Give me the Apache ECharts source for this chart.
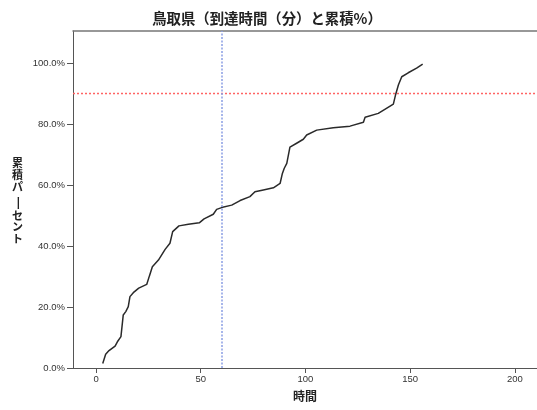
<!DOCTYPE html>
<html>
<head>
<meta charset="utf-8">
<script src="https://cdn.jsdelivr.net/npm/echarts@6/dist/echarts.min.js"></script>
<style>html,body{margin:0;padding:0;background:#fff}#c{width:537px;height:410px}</style>
</head>
<body>
<div id="c"></div>
<script>
const titleText = '鳥取県（到達時間（分）と累積%）';
const xName = '時間';
const yNameParts = ['累\n積\nパ', 'ー', 'セ\nン\nト'];
const xTicks = [0, 50, 100, 150, 200];
const yTicks = [0, 20, 40, 60, 80, 100];
const timeValues = [3.2,4.6,6.2,9.1,10.2,11.9,13.0,14.2,15.4,16.2,17.8,20.4,24.2,25.5,26.9,29.8,33.0,35.3,36.6,39.6,44.1,49.3,51.6,56.0,57.6,60.0,64.8,68.8,73.5,75.9,79.9,84.7,87.9,89.0,89.9,91.1,92.6,95.8,99.0,100.6,105.4,113.3,121.3,127.7,128.5,134.8,142.0,143.1,144.4,146.0,149.1,153.1,156.0];
const cumulativePct = [1.5,4.5,5.7,7.2,8.6,10.3,17.4,18.5,20.1,23.4,24.7,26.2,27.4,30.2,33.2,35.4,38.9,40.9,44.7,46.6,47.1,47.6,48.9,50.4,52.0,52.6,53.4,54.9,56.2,57.8,58.4,59.1,60.5,63.8,65.5,67.1,72.4,73.7,75.0,76.4,78.0,78.8,79.3,80.6,82.2,83.5,86.5,89.7,92.8,95.5,96.8,98.3,99.6];
const refTime = 60;
const refPct = 90;

const xMin = -11, xMax = 210.6, yMin = 0, yMax = 110.5;
const jp = '"Noto Sans CJK JP", sans-serif';
const lat = '"Liberation Sans", Arial, sans-serif';

const chart = echarts.init(document.getElementById('c'), null, {renderer: 'canvas'});
chart.setOption({
  animation: false,
  backgroundColor: '#fff',
  title: {
    text: titleText, left: 262, top: 6, textAlign: 'center',
    textStyle: {fontFamily: jp, fontSize: 14.4, fontWeight: 'bold', color: '#222'}
  },
  grid: {left: 73, top: 31, right: 0, bottom: 42},
  xAxis: [{
    type: 'value', min: xMin, max: xMax, position: 'bottom',
    name: xName, nameLocation: 'middle', nameGap: 22,
    nameTextStyle: {fontFamily: jp, fontSize: 12, fontWeight: 'bold', color: '#222'},
    splitLine: {show: false},
    axisLine: {show: true, onZero: false, lineStyle: {color: '#555', width: 1}},
    axisTick: {show: true, length: 5, customValues: xTicks, lineStyle: {color: '#555'}},
    axisLabel: {customValues: xTicks, margin: 6, fontFamily: lat, fontSize: 9.5, color: '#333'}
  }, {
    type: 'value', min: xMin, max: xMax, position: 'top',
    splitLine: {show: false},
    axisLine: {show: true, onZero: false, lineStyle: {color: '#777', width: 1.5}},
    axisTick: {show: false}, axisLabel: {show: false}
  }],
  yAxis: {
    type: 'value', min: yMin, max: yMax,
    splitLine: {show: false},
    axisLine: {show: true, onZero: false, lineStyle: {color: '#555', width: 1}},
    axisTick: {show: true, length: 6, customValues: yTicks, lineStyle: {color: '#555'}},
    axisLabel: {customValues: yTicks, margin: 8, fontFamily: lat, fontSize: 9.5, color: '#333',
      formatter: v => v.toFixed(1) + '%'}
  },
  graphic: [
    {type: 'text', left: 12, top: 157, style: {text: yNameParts[0], font: 'bold 11px "Noto Sans CJK JP"', fill: '#222', lineHeight: 12}},
    {type: 'text', x: 18, y: 203, rotation: Math.PI / 2, originX: 0, originY: 0,
      style: {text: yNameParts[1], font: '15px "Noto Sans CJK JP"', fill: '#222', align: 'center', verticalAlign: 'middle'}},
    {type: 'text', left: 12, top: 210, style: {text: yNameParts[2], font: 'bold 11px "Noto Sans CJK JP"', fill: '#222', lineHeight: 11.5}}
  ],
  series: [{
    type: 'line',
    data: timeValues.map((t, i) => [t, cumulativePct[i]]),
    showSymbol: false, symbol: 'none',
    lineStyle: {color: '#2a2a2a', width: 1.5},
    z: 3
  }, {
    type: 'line', data: [], silent: true, z: 2,
    markLine: {
      silent: true, symbol: 'none', label: {show: false}, animation: false,
      lineStyle: {color: '#8a9ee4', type: [2, 1.5], width: 1.5, opacity: 1},
      data: [{xAxis: refTime}]
    }
  }, {
    type: 'line', silent: true, z: 2, showSymbol: false, symbol: 'none',
    data: [[xMin, refPct], [xMax, refPct]],
    itemStyle: {color: '#ff6464'},
    lineStyle: {color: '#ff6464', type: [2, 2], width: 1.5, opacity: 1}
  }]
});
</script>
</body>
</html>
